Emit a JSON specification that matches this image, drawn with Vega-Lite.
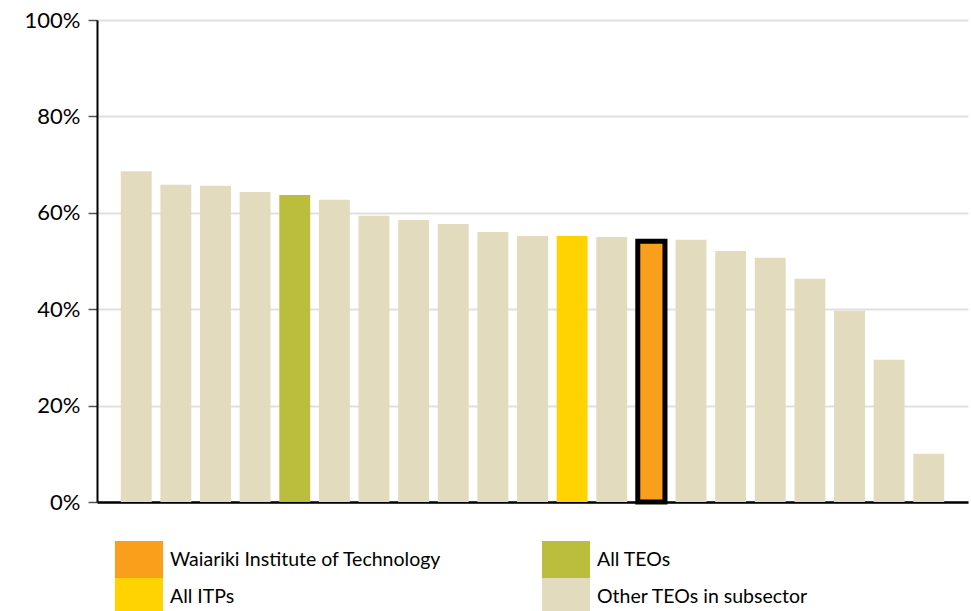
{
  "$schema": "https://vega.github.io/schema/vega-lite/v6.json",
  "width": 871,
  "height": 482,
  "autosize": {"type": "none"},
  "padding": {"left": 97, "top": 20, "right": 3, "bottom": 109},
  "background": "white",
  "config": {
    "view": {"stroke": null},
    "font": "Lato"
  },
  "data": {
    "values": [
      {"teo": "TEO 1", "group": "Other TEOs in subsector", "rate": 68.6},
      {"teo": "TEO 2", "group": "Other TEOs in subsector", "rate": 65.8},
      {"teo": "TEO 3", "group": "Other TEOs in subsector", "rate": 65.6},
      {"teo": "TEO 4", "group": "Other TEOs in subsector", "rate": 64.3},
      {"teo": "All TEOs", "group": "All TEOs", "rate": 63.7},
      {"teo": "TEO 6", "group": "Other TEOs in subsector", "rate": 62.7},
      {"teo": "TEO 7", "group": "Other TEOs in subsector", "rate": 59.4},
      {"teo": "TEO 8", "group": "Other TEOs in subsector", "rate": 58.5},
      {"teo": "TEO 9", "group": "Other TEOs in subsector", "rate": 57.7},
      {"teo": "TEO 10", "group": "Other TEOs in subsector", "rate": 56.0},
      {"teo": "TEO 11", "group": "Other TEOs in subsector", "rate": 55.2},
      {"teo": "All ITPs", "group": "All ITPs", "rate": 55.2},
      {"teo": "TEO 13", "group": "Other TEOs in subsector", "rate": 55.0},
      {"teo": "Waiariki Institute of Technology", "group": "Waiariki Institute of Technology", "rate": 54.1},
      {"teo": "TEO 15", "group": "Other TEOs in subsector", "rate": 54.4},
      {"teo": "TEO 16", "group": "Other TEOs in subsector", "rate": 52.1},
      {"teo": "TEO 17", "group": "Other TEOs in subsector", "rate": 50.7},
      {"teo": "TEO 18", "group": "Other TEOs in subsector", "rate": 46.3},
      {"teo": "TEO 19", "group": "Other TEOs in subsector", "rate": 39.7},
      {"teo": "TEO 20", "group": "Other TEOs in subsector", "rate": 29.5},
      {"teo": "TEO 21", "group": "Other TEOs in subsector", "rate": 10.0}
    ]
  },
  "layer": [
    {
      "mark": {"type": "bar"},
      "encoding": {
        "x": {
          "field": "teo",
          "type": "nominal",
          "sort": null,
          "scale": {"paddingInner": 0.22, "paddingOuter": 0.6},
          "axis": {
            "title": null,
            "labels": false,
            "ticks": false,
            "grid": false,
            "domainColor": "black",
            "domainWidth": 2.5
          }
        },
        "y": {
          "field": "rate",
          "type": "quantitative",
          "scale": {"domain": [0, 100]},
          "axis": {
            "title": null,
            "values": [0, 20, 40, 60, 80, 100],
            "labelExpr": "datum.value + '%'",
            "labelFontSize": 22,
            "labelColor": "black",
            "labelPadding": 8,
            "domainColor": "black",
            "domainWidth": 2,
            "tickColor": "#555555",
            "tickSize": 9,
            "tickWidth": 1.5,
            "grid": true,
            "gridColor": "#e0e0e0",
            "gridWidth": 2
          }
        },
        "color": {
          "field": "group",
          "type": "nominal",
          "scale": {
            "domain": ["Waiariki Institute of Technology", "All ITPs", "All TEOs", "Other TEOs in subsector"],
            "range": ["#F99F1C", "#FFD300", "#BBBE3C", "#E2DBBD"]
          },
          "legend": {
            "title": null,
            "orient": "none",
            "legendX": 23.5,
            "legendY": 521,
            "columns": 2,
            "columnPadding": 100,
            "rowPadding": 0,
            "padding": 0,
            "symbolType": "M-1.3,-1H1.3V1H-1.3Z",
            "symbolSize": 1369,
            "symbolStrokeWidth": 0,
            "symbolOpacity": 1,
            "labelFontSize": 19.5,
            "labelColor": "black",
            "labelOffset": 12.5,
            "labelLimit": 400
          }
        }
      }
    },
    {
      "transform": [{"filter": "datum.group === 'Waiariki Institute of Technology'"}],
      "mark": {"type": "bar", "filled": false, "stroke": "black", "strokeWidth": 5, "width": {"band": 0.88}},
      "encoding": {
        "x": {"field": "teo", "type": "nominal", "sort": null},
        "y": {"field": "rate", "type": "quantitative"}
      }
    }
  ]
}
